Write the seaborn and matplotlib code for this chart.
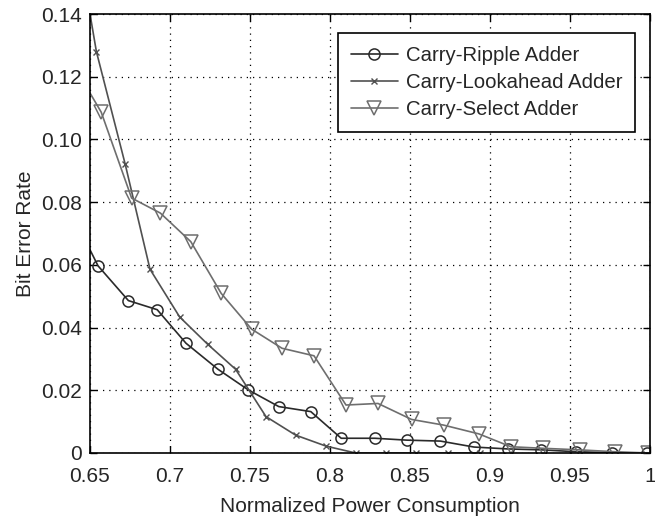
import numpy as np
import pandas as pd
import matplotlib
matplotlib.use("Agg")
import matplotlib.pyplot as plt
import seaborn as sns

# ---- data ----
ripple_x = [0.650, 0.655, 0.674, 0.692, 0.710, 0.730, 0.749, 0.768, 0.788, 0.807,
            0.828, 0.848, 0.869, 0.890, 0.911, 0.932, 0.954, 0.976, 0.998]
ripple_y = [0.0648, 0.0597, 0.0486, 0.0457, 0.0350, 0.0267, 0.0201, 0.0148, 0.0132, 0.0047,
            0.0047, 0.0041, 0.0038, 0.0019, 0.0013, 0.0010, 0.0004, 0.0001, 0.0000]

look_x = [0.650, 0.654, 0.672, 0.6875, 0.706, 0.7235, 0.741, 0.760, 0.7785, 0.7975,
          0.816, 0.835, 0.854, 0.874, 0.894]
look_y = [0.1400, 0.1280, 0.0921, 0.0586, 0.0434, 0.0347, 0.0267, 0.0116, 0.0057, 0.0022,
          0.0000, 0.0000, 0.0000, 0.0000, 0.0000]

select_x = [0.650, 0.657, 0.676, 0.694, 0.713, 0.732, 0.751, 0.770, 0.790, 0.810,
            0.830, 0.851, 0.871, 0.893, 0.913, 0.933, 0.956, 0.978, 0.999]
select_y = [0.1148, 0.1087, 0.0813, 0.0765, 0.0674, 0.0509, 0.0395, 0.0334, 0.0310, 0.0153,
            0.0158, 0.0107, 0.0089, 0.0061, 0.0020, 0.0015, 0.0010, 0.0004, 0.0000]

series_names = ["Carry-Ripple Adder", "Carry-Lookahead Adder", "Carry-Select Adder"]
x_ticks = [0.65, 0.7, 0.75, 0.8, 0.85, 0.9, 0.95, 1.0]
x_tick_labels = ["0.65", "0.7", "0.75", "0.8", "0.85", "0.9", "0.95", "1"]
y_ticks = [0, 0.02, 0.04, 0.06, 0.08, 0.10, 0.12, 0.14]
y_tick_labels = ["0", "0.02", "0.04", "0.06", "0.08", "0.10", "0.12", "0.14"]

sns.set_style("ticks")
plt.rcParams["font.family"] = ["Liberation Sans", "DejaVu Sans"]
plt.rcParams["xtick.direction"] = "in"
plt.rcParams["ytick.direction"] = "in"

fig = plt.figure(figsize=(6.55, 5.21), dpi=100)
ax = fig.add_axes([90 / 655, (521 - 453) / 521, 560 / 655, 439 / 521])

colors = ["#2a2a2a", "#505050", "#6e6e6e"]
styles = [
    dict(marker="o", markersize=8, mfc="none", mew=1.1),
    dict(marker="x", markersize=4.5, mew=1.0),
    dict(marker="v", markersize=10, mfc="none", mew=1.1),
]
datasets = [(ripple_x, ripple_y), (look_x, look_y), (select_x, select_y)]

for name, (xs, ys), st, c in zip(series_names, datasets, styles, colors):
    df = pd.DataFrame({"x": xs, "y": ys})
    sns.lineplot(data=df, x="x", y="y", ax=ax, label=name, linewidth=1.2,
                 color=c, mec=c, markevery=list(range(1, len(xs))),
                 sort=False, estimator=None, **st)

ax.set_xlim(0.65, 1.0)
ax.set_ylim(0, 0.14)
ax.set_xticks(x_ticks)
ax.set_xticklabels(x_tick_labels)
ax.set_yticks(y_ticks)
ax.set_yticklabels(y_tick_labels)
ax.tick_params(axis="both", labelsize=15, length=5, width=1, color="black",
               top=True, right=True)
ax.tick_params(axis="x", pad=10)
ax.tick_params(axis="y", pad=6)
for s in ax.spines.values():
    s.set_visible(True)
    s.set_color("black")
    s.set_linewidth(1.2)
ax.grid(True, color="black", linestyle=(0, (1, 4)), linewidth=0.9)

ax.set_xlabel("Normalized Power Consumption", fontsize=15, labelpad=8)
ax.set_ylabel("Bit Error Rate", fontsize=15, labelpad=4)

leg = ax.legend(loc="upper right", fontsize=14.7, frameon=True,
                fancybox=False, edgecolor="black", framealpha=1,
                handlelength=2.3, handletextpad=0.4, labelspacing=0.4,
                borderpad=0.62, borderaxespad=0)
leg.get_frame().set_linewidth(1.2)
leg.set_bbox_to_anchor((635 / 655, (521 - 33) / 521), transform=fig.transFigure)

fig.savefig("out.png", dpi=100)
